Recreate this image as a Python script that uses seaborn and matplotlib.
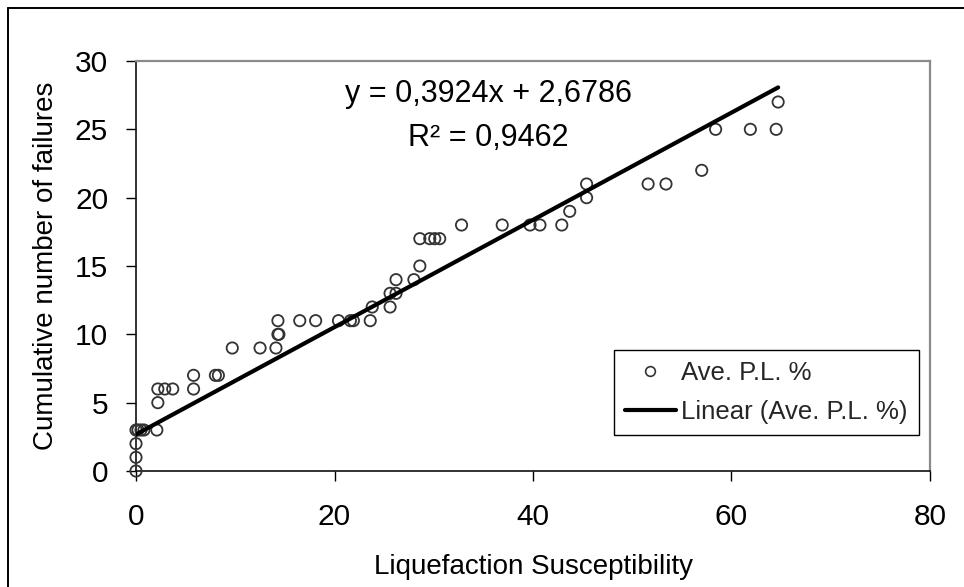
import matplotlib
matplotlib.use("Agg")
import matplotlib.pyplot as plt
from matplotlib.lines import Line2D
import numpy as np
import pandas as pd
import seaborn as sns

# ---- data ----
susceptibility = [0, 0, 0, 0, 0.2, 0.5, 0.8, 2.1, 2.2, 2.2, 2.9, 3.7, 5.8, 5.8,
                  8.0, 8.3, 9.7, 12.5, 14.1, 14.3, 14.4, 14.3, 16.5, 18.1, 20.4,
                  21.6, 21.9, 23.6, 23.8, 25.6, 25.6, 26.2, 26.2, 28.0, 28.6,
                  28.6, 29.6, 30.1, 30.6, 32.8, 36.9, 39.7, 40.7, 42.9, 43.7,
                  45.4, 45.4, 51.6, 53.4, 57.0, 58.4, 61.9, 64.5, 64.7]
failures = [0, 1, 2, 3, 3, 3, 3, 3, 5, 6, 6, 6, 6, 7,
            7, 7, 9, 9, 9, 10, 10, 11, 11, 11, 11,
            11, 11, 11, 12, 12, 13, 13, 14, 14, 15,
            17, 17, 17, 17, 18, 18, 18, 18, 18, 19,
            20, 21, 21, 21, 22, 25, 25, 25, 27]
slope = 0.3924
intercept = 2.6786
r_squared = "0,9462"
x_ticks = [0, 20, 40, 60, 80]
y_ticks = [0, 5, 10, 15, 20, 25, 30]
series_label = "Ave. P.L. %"
trend_label = "Linear (Ave. P.L. %)"

df = pd.DataFrame({"x": susceptibility, "y": failures})
x_fit = np.array([min(susceptibility), max(susceptibility)])
fit_df = pd.DataFrame({"x": x_fit, "y": slope * x_fit + intercept})

sns.set_theme(style="white")
plt.rcParams["font.family"] = ["Liberation Sans", "DejaVu Sans"]

W, H = 964, 587
fig = plt.figure(figsize=(W / 100, H / 100), dpi=100)
L, R, T, B = 136, 930, 61, 471
ax = fig.add_axes([L / W, 1 - B / H, (R - L) / W, (B - T) / H])

sns.scatterplot(data=df, x="x", y="y", ax=ax, marker="o", s=66,
                facecolor="none", edgecolor="#333333", linewidth=1.3,
                clip_on=False, zorder=3, legend=False)
sns.lineplot(data=fit_df, x="x", y="y", ax=ax, color="black", linewidth=3.0,
             zorder=4, legend=False)

ax.set_xlim(0, 80)
ax.set_ylim(0, 30)
ax.set_xticks(x_ticks)
ax.set_yticks(y_ticks)
ax.tick_params(axis="both", direction="out", length=7, width=1, color="black",
               labelsize=21.5, labelcolor="black", bottom=True, left=True)
ax.tick_params(axis="y", pad=13)
ax.tick_params(axis="x", pad=16)

ax.set_xlabel("Liquefaction Susceptibility", fontsize=20, color="black")
ax.set_ylabel("Cumulative number of failures", fontsize=20, color="black")
ax.xaxis.set_label_coords(0.5, -0.203)
ax.yaxis.set_label_coords(-0.097, 0.5)

for side in ["left", "bottom"]:
    ax.spines[side].set_color("#111111")
    ax.spines[side].set_linewidth(1.2)
for side in ["top", "right"]:
    ax.spines[side].set_color("#8a8a8a")
    ax.spines[side].set_linewidth(1.6)

ax.text(35.5, 27.6, f"y = {slope:.4f}x + {intercept:.4f}".replace(".", ","),
        fontsize=22, ha="center", va="center", color="black")
ax.text(35.5, 24.4, f"R² = {r_squared}", fontsize=22, ha="center",
        va="center", color="black")

handles = [
    Line2D([], [], linestyle="none", marker="o", markersize=7,
           markerfacecolor="none", markeredgecolor="#333333", markeredgewidth=1.2),
    Line2D([], [], color="black", linewidth=3.0),
]
leg = ax.legend(handles, [series_label, trend_label],
                loc="upper left",
                bbox_to_anchor=((614 - L) / (R - L), (B - 350) / (B - T)),
                borderaxespad=0, fontsize=18.5, frameon=True, fancybox=False,
                shadow=False, handlelength=2.0, handletextpad=0.2,
                borderpad=0.42, labelspacing=0.6, framealpha=1)
leg.get_frame().set_edgecolor("black")
leg.get_frame().set_linewidth(1.0)

# outer chart border
fig.add_artist(Line2D([8 / W, 1.0], [1 - 8 / H, 1 - 8 / H], color="black",
                      linewidth=1.4, transform=fig.transFigure))
fig.add_artist(Line2D([8 / W, 8 / W], [0.0, 1 - 8 / H], color="black",
                      linewidth=1.4, transform=fig.transFigure))

fig.savefig("out.png", dpi=100)
